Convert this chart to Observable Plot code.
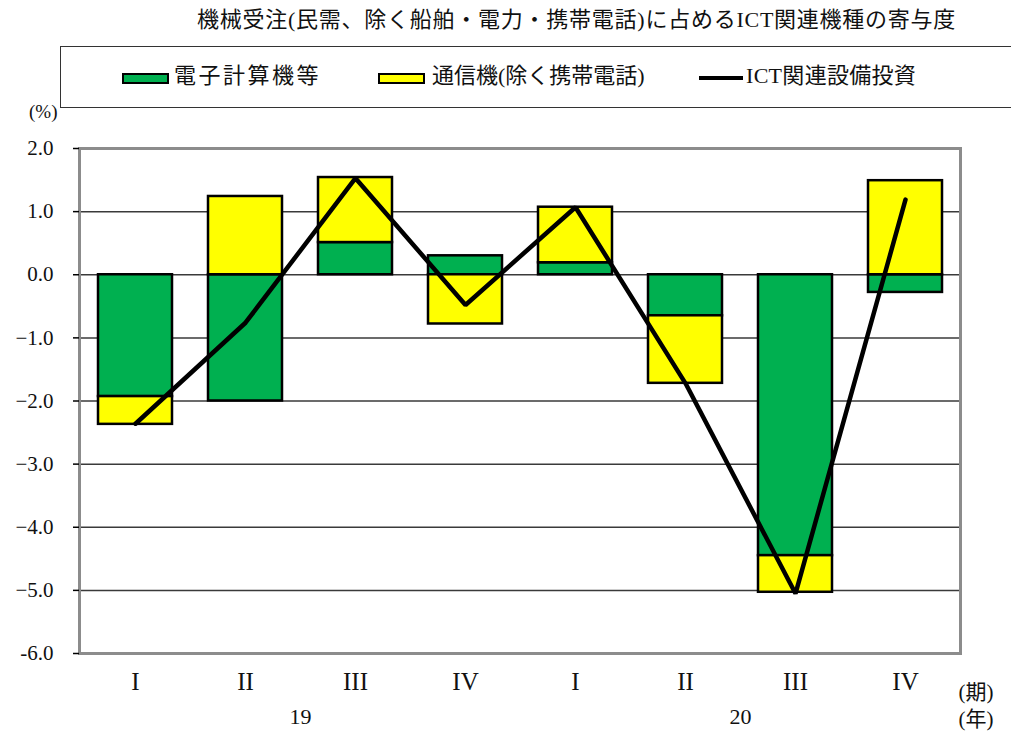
<!DOCTYPE html>
<html>
<head>
<meta charset="utf-8">
<script src="https://cdn.jsdelivr.net/npm/d3@7"></script>
<script src="https://cdn.jsdelivr.net/npm/@observablehq/plot@0.6"></script>
<style>
  html, body { margin: 0; padding: 0; background: #fff; }
  #wrap { position: relative; width: 1011px; height: 735px; overflow: hidden; font-family: "Liberation Serif", "Noto Sans CJK JP", serif; color: #111; }
  #title { position: absolute; left: 197px; top: 5px; font-size: 22px; letter-spacing: 0.75px; line-height: 30px; white-space: nowrap; z-index: 2; }
  #legend { position: absolute; left: 60px; top: 46px; width: 1100px; height: 60px; border: 1.5px solid #333; background: #fff; z-index: 2; }
  .sw { position: absolute; top: 26px; width: 43px; height: 7px; border: 2.5px solid #000; }
  .ln { position: absolute; top: 29px; width: 44px; height: 4px; background: #000; }
  .lt { position: absolute; top: 14px; font-size: 22px; line-height: 30px; white-space: nowrap; }
  #chart { position: absolute; left: 0; top: 90px; z-index: 1; }
</style>
</head>
<body>
<div id="wrap">
  <div id="title"></div>
  <div id="legend"></div>
  <div id="chart"></div>
</div>
<script>
const titleText = "機械受注(民需、除く船舶・電力・携帯電話)に占めるICT関連機種の寄与度";
const seriesNames = ["電子計算機等", "通信機(除く携帯電話)", "ICT関連設備投資"];
const seriesColors = ["#00B050", "#FFFF00", "#000000"];
const quarters = ["2019-I","2019-II","2019-III","2019-IV","2020-I","2020-II","2020-III","2020-IV"];
const quarterLabels = ["I","II","III","IV","I","II","III","IV"];
const computers = [-1.93, -2.00, 0.51, 0.30, 0.19, -0.65, -4.45, -0.28];
const telecom = [-0.44, 1.24, 1.03, -0.78, 0.88, -1.07, -0.58, 1.49];
const ictInvestment = [-2.36, -0.76, 1.53, -0.48, 1.07, -1.72, -5.05, 1.19];
const yearLabels = ["19", "20"];
const yearAnchors = ["2019-II", "2020-II"];
const unitLabels = ["(期)", "(年)"];
const yTicks = [2, 1, 0, -1, -2, -3, -4, -5, -6];

// Title & legend (HTML)
document.getElementById("title").textContent = titleText;
const legend = document.getElementById("legend");
const legendItems = [
  {type: "sw", left: 61, textLeft: 113, ls: 2.5},
  {type: "sw", left: 317, textLeft: 371, ls: 0},
  {type: "ln", left: 638, textLeft: 685, ls: 0.3}
];
legendItems.forEach((it, i) => {
  const s = document.createElement("div");
  s.className = it.type;
  s.style.left = it.left + "px";
  if (it.type === "sw") s.style.background = seriesColors[i];
  legend.appendChild(s);
  const t = document.createElement("div");
  t.className = "lt";
  t.style.left = it.textLeft + "px";
  t.style.letterSpacing = it.ls + "px";
  t.textContent = seriesNames[i];
  legend.appendChild(t);
});

// Data tables
const bars = [];
quarters.forEach((q, i) => bars.push({q, series: seriesNames[0], v: computers[i]}));
quarters.forEach((q, i) => bars.push({q, series: seriesNames[1], v: telecom[i]}));
const line = quarters.map((q, i) => ({q, v: ictInvestment[i]}));
const years = yearLabels.map((t, i) => ({t, q: yearAnchors[i]}));
const labelOf = Object.fromEntries(quarters.map((q, i) => [q, quarterLabels[i]]));

const fmt = d => d === -6 ? "-6.0" : d < 0 ? "\u2212" + Math.abs(d).toFixed(1) : d.toFixed(1);

const chart = Plot.plot({
  width: 1011,
  height: 645,
  marginLeft: 79,
  marginRight: 51,
  marginTop: 58,
  marginBottom: 82,
  style: {fontFamily: "'Liberation Serif', 'Noto Sans CJK JP', serif", background: "transparent", color: "#111"},
  x: {domain: quarters, paddingInner: 0.33, paddingOuter: 0.165, axis: null},
  y: {domain: [-6, 2], axis: null},
  color: {domain: seriesNames.slice(0, 2), range: seriesColors.slice(0, 2)},
  marks: [
    Plot.ruleY(yTicks.slice(1, -1), {stroke: "#3a3a3a", strokeWidth: 1.5}),
    Plot.frame({stroke: "#8c8c8c", strokeWidth: 3}),
    Plot.axisY({ticks: yTicks, tickSize: 6, tickPadding: 20, tickFormat: fmt, fontSize: 21, stroke: "#000", strokeWidth: 1.5, line: true, label: null}),
    Plot.barY(bars, Plot.stackY({x: "q", y: "v", fill: "series", stroke: "#000", strokeWidth: 2.5, order: null})),
    Plot.lineY(line, {x: "q", y: "v", stroke: "#000", strokeWidth: 4.5, strokeLinejoin: "miter", strokeLinecap: "round"}),
    Plot.axisX({tickSize: 0, tickPadding: 19, tickFormat: d => labelOf[d], fontSize: 25, letterSpacing: "-2.5px", label: null}),
    Plot.text(years, {x: "q", text: "t", frameAnchor: "bottom", dx: 55, dy: 70, fontSize: 22}),
    Plot.text(unitLabels, {text: d => d, frameAnchor: "bottom-right", dx: 33, fontSize: 21, filter: (d, i) => i === 0, dy: 45}),
    Plot.text(unitLabels, {text: d => d, frameAnchor: "bottom-right", dx: 33, fontSize: 21, filter: (d, i) => i === 1, dy: 72}),
    Plot.text(["(%)"], {frameAnchor: "top-left", dx: -22, dy: -44, textAnchor: "end", fontSize: 19})
  ]
});
document.getElementById("chart").appendChild(chart);
</script>
</body>
</html>
